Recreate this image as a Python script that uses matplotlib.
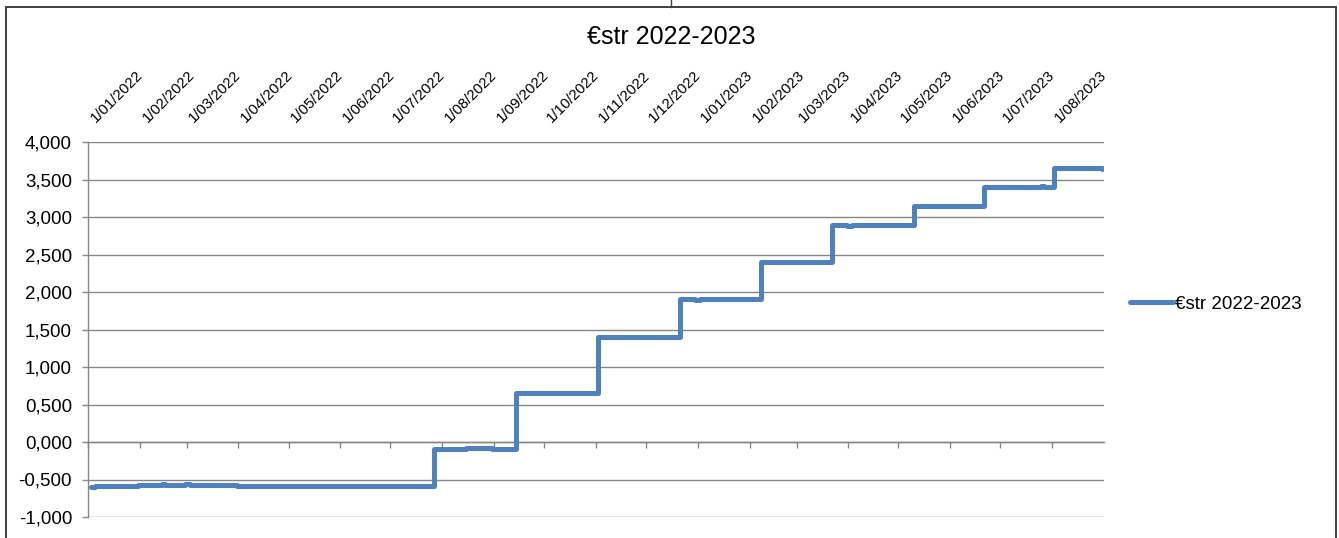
import matplotlib
matplotlib.use('Agg')
import matplotlib.pyplot as plt
from matplotlib.ticker import FuncFormatter, MultipleLocator
from matplotlib.lines import Line2D
from matplotlib.patches import Rectangle
import pandas as pd

plt.rcParams['font.family'] = ['Liberation Sans', 'DejaVu Sans']

# data: dates where the rate moves, and the new level
change_dates = [
    "2022-01-03", "2022-01-05", "2022-01-31", "2022-02-03", "2022-02-14",
    "2022-02-16", "2022-02-28", "2022-03-03", "2022-03-31", "2022-04-04",
    "2022-05-31", "2022-06-01", "2022-06-30", "2022-07-01", "2022-07-27",
    "2022-08-15", "2022-08-31", "2022-09-14", "2022-09-30", "2022-10-03",
    "2022-11-02", "2022-11-30", "2022-12-01", "2022-12-21", "2022-12-30",
    "2023-01-02", "2023-02-08", "2023-02-28", "2023-03-01", "2023-03-22",
    "2023-03-31", "2023-04-03", "2023-04-20", "2023-04-24", "2023-05-10",
    "2023-06-21", "2023-07-03", "2023-07-05", "2023-07-25", "2023-07-27",
    "2023-08-02", "2023-08-25", "2023-08-31",
]
rate_values = [
    -0.595, -0.580, -0.568, -0.578, -0.566,
    -0.575, -0.565, -0.578, -0.586, -0.582,
    -0.590, -0.580, -0.590, -0.582, -0.087,
    -0.080, -0.087, 0.657, 0.650, 0.657,
    1.404, 1.398, 1.404, 1.902, 1.890,
    1.902, 2.403, 2.398, 2.403, 2.899,
    2.885, 2.899, 2.895, 2.899, 3.148,
    3.398, 3.405, 3.398, 3.408, 3.398,
    3.648, 3.652, 3.642,
]
series_name = "€str 2022-2023"
title = "€str 2022-2023"

tick_dates = pd.date_range("2022-01-01", "2023-08-01", freq="MS")
tick_labels = [f"{d.day}/{d.month:02d}/{d.year}" for d in tick_dates]

dates = pd.to_datetime(change_dates)

fig = plt.figure(figsize=(13.39, 5.38), dpi=100)
ax = fig.add_axes([88 / 1339, 1 - 517 / 538, (1104 - 88) / 1339, (517 - 142) / 538])

ax.plot(dates, rate_values, drawstyle='steps-post', color='#4F81BD', lw=3.6,
        solid_joinstyle='round', solid_capstyle='round', label=series_name, zorder=3)

grid_col = '#868686'
ax.set_ylim(-1.0, 4.0)
ax.yaxis.set_major_locator(MultipleLocator(0.5))
ax.yaxis.set_major_formatter(FuncFormatter(lambda v, p: f"{v:.3f}".replace('.', ',')))
ax.grid(axis='y', color=grid_col, lw=1.0)
ax.set_xlim(pd.Timestamp("2022-01-01"), pd.Timestamp("2023-09-01"))

for s in ['top', 'right']:
    ax.spines[s].set_visible(False)
ax.spines['left'].set_color(grid_col)
ax.spines['left'].set_linewidth(1.0)
ax.spines['bottom'].set_position(('data', 0))
ax.spines['bottom'].set_color(grid_col)
ax.spines['bottom'].set_linewidth(1.0)

ax.tick_params(axis='y', colors=grid_col, labelcolor='black', labelsize=13.5,
               length=4.5, width=1.0, pad=7)
ax.set_xticks(tick_dates)
ax.set_xticklabels(tick_labels)
ax.tick_params(axis='x', which='major', bottom=True, top=False, labelbottom=False,
               labeltop=True, colors=grid_col, labelcolor='black', labelsize=10.8,
               length=4.5, width=1.0, direction='out', pad=7.5)
for t in ax.xaxis.get_major_ticks():
    t.label2.set_rotation(45)
    t.label2.set_rotation_mode('default')
    t.label2.set_ha('left')
    t.label2.set_va('bottom')

fig.text(671 / 1339, 1 - 37 / 538, title, ha='center', va='center', fontsize=18)

fig.legend(loc='center left', bbox_to_anchor=(1130 / 1339, 1 - 304 / 538),
           frameon=False, fontsize=13.5, handlelength=2.3, handletextpad=0.1,
           borderpad=0, borderaxespad=0)

# outer chart frame (cut off at the bottom) and the small line above it
fig.add_artist(Rectangle((6 / 1339, -0.2), 1330 / 1339, 1.2 - 6.5 / 538,
                         transform=fig.transFigure, fill=False, ec='#3f3f3f', lw=1.4))
fig.add_artist(Line2D([671 / 1339, 671 / 1339], [1 - 6.5 / 538, 1.0],
                      transform=fig.transFigure, color='#3f3f3f', lw=1.0))

fig.savefig("out.png", dpi=100)
